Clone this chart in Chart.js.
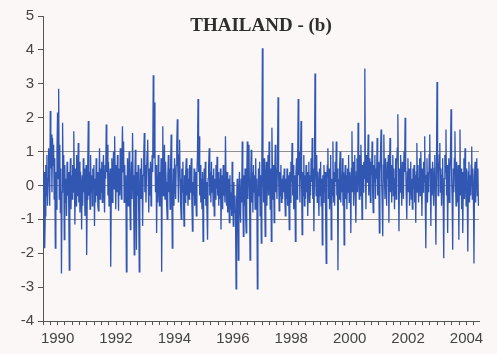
<!DOCTYPE html>
<html>
<head>
<meta charset="utf-8">
<title>THAILAND - (b)</title>
<script src="https://cdn.jsdelivr.net/npm/chart.js@4.4.1/dist/chart.umd.min.js"></script>
<style>
  html, body { margin: 0; padding: 0; background: #faf7f6; }
  #wrap { width: 497px; height: 354px; }
</style>
</head>
<body>
<div id="wrap"><canvas id="chart" width="497" height="354"></canvas></div>
<script>
// Weekly standardized series, mid-1989 to mid-2004, one block per 52 weeks.
const block1989 = [0.3,-0.5,0.4,-1.85,-0.9,0.6,-0.3,0.9,-0.6,0.2,1.1,0.3,-0.6,2.2,0.5,1.5,-0.2,1.4,0.6,1.2,-0.4,0.8,-1.85,0.4,-0.7,1.0,2.15,0.2,2.85,-0.4,1.2,-0.8,0.5,-2.6,-0.2,1.85,0.3,0.9,-1.6,0.6,-0.5,0.2,-0.9,0.7,-0.3,0.4,-0.6,-2.5,0.1,0.8,-0.7,0.3];
const block1990 = [-0.4,0.6,-0.2,1.6,0.3,-1.15,0.5,-0.6,0.9,-0.3,0.2,1.25,-0.5,0.7,-0.8,0.4,-0.1,-1.3,0.3,-0.6,0.8,-0.2,0.5,-0.9,0.1,0.6,-2.05,-0.4,0.7,1.9,-0.3,0.4,-0.7,0.9,-0.2,0.3,-0.6,0.5,-0.1,0.6,-1.2,0.2,-0.5,0.8,-0.3,0.4,-0.6,-0.75,0.2,1.1,-0.4,0.5];
const block1991 = [-0.2,0.7,-0.5,0.3,0.9,-0.1,-0.8,0.6,0.2,1.8,0.4,1.2,-0.3,0.7,-0.6,0.1,0.5,-2.4,-0.2,0.8,-0.5,0.4,1.0,-0.1,1.45,0.3,-0.7,0.6,-0.2,0.9,0.1,-0.75,0.5,-0.3,1.1,0.2,-0.4,0.7,1.75,0.4,1.3,-0.5,0.6,-0.2,0.3,-2.55,-0.4,0.8,-0.6,0.4,1.0,-0.3];
const block1992 = [-1.3,0.2,0.7,-0.4,1.55,0.3,-0.6,-2.05,0.1,1.05,-0.5,-1.9,0.4,-0.3,0.6,-0.8,-2.55,-0.2,0.5,-0.4,0.8,0.1,-1.2,0.3,0.9,1.55,-0.2,0.6,-0.5,0.4,1.0,1.35,0.2,-0.8,0.5,-0.3,0.7,-0.6,0.2,0.9,0.4,3.25,0.8,2.45,1.1,-0.2,0.6,-1.4,0.3,-0.5,0.9,0.1];
const block1993 = [-0.6,0.4,-0.2,0.8,-2.55,0.2,1.75,-0.3,0.5,1.2,-0.4,0.7,0.1,-0.6,-1.0,0.3,0.9,-0.2,0.5,-0.7,0.6,1.5,0.2,-1.85,-0.3,0.5,-0.6,0.8,0.1,-0.4,0.6,1.2,1.95,0.4,-0.5,0.9,1.35,0.2,-0.6,-1.0,0.5,-0.2,0.7,-0.4,-1.2,0.3,-0.5,0.4,0.8,-0.3,0.5,-0.6];
const block1994 = [0.2,-0.4,0.6,-0.2,0.3,0.8,-0.5,-1.35,0.1,-0.3,0.5,-0.6,0.4,-0.2,-0.9,0.3,0.9,2.55,0.4,1.45,-0.3,0.6,-0.5,0.2,-0.7,0.4,-1.65,-0.2,0.5,-0.4,0.7,-0.6,0.1,-0.8,-1.6,0.2,0.6,1.1,-0.3,0.4,-0.5,0.7,-0.2,0.3,-0.6,0.5,-0.9,0.2,-0.4,0.6,-0.1,0.85];
const block1995 = [-0.3,0.4,-0.6,0.2,-0.4,0.5,-1.3,-0.1,0.3,-0.7,0.6,-0.3,0.2,-0.5,1.45,0.1,-0.6,0.4,-0.8,0.2,-0.4,-1.1,0.3,-0.7,-0.2,-0.9,0.7,-0.5,-1.2,0.1,-0.8,-0.3,-1.0,-3.05,-0.4,0.2,-0.9,-2.2,-0.3,0.4,-0.7,-1.1,0.2,-0.5,1.3,-0.2,-1.5,0.3,-0.6,0.5,-0.9,-1.4];
const block1996 = [0.2,1.3,-0.4,0.6,1.2,-0.3,-2.2,0.1,1.05,-0.5,0.4,-0.8,0.6,-0.2,0.3,-0.7,0.8,-0.4,0.2,-3.05,-0.6,0.5,-0.3,0.7,-0.9,0.3,-1.7,0.6,4.05,0.4,-0.5,0.8,-0.2,-1.5,0.3,0.7,-0.6,0.4,0.9,-0.3,1.3,0.2,-0.7,0.5,-1.65,1.7,0.3,-0.4,0.6,-1.1,0.2,1.2];
const block1997 = [-0.2,0.5,-0.4,0.9,2.6,0.3,-0.75,0.4,-0.3,0.6,-0.5,0.2,-0.4,0.3,-0.2,0.5,-0.3,-0.9,0.2,-0.4,0.5,-0.6,0.3,-0.2,-1.3,0.4,-0.5,0.7,0.1,1.25,-0.3,0.6,-0.7,0.3,-0.2,-1.65,0.4,0.8,-0.4,0.6,2.55,0.3,1.0,-0.5,0.7,1.9,0.2,-1.45,0.4,-0.3,0.9,-0.6];
const block1998 = [0.3,-0.4,0.6,-0.2,0.4,-0.9,0.2,0.7,-0.5,0.3,-0.3,0.8,0.1,1.4,-0.4,0.5,-1.35,0.3,3.3,0.6,-0.3,0.9,-0.5,0.4,-0.2,-0.9,0.5,-0.3,0.7,-0.6,0.2,-1.75,0.3,-0.5,0.6,-0.2,0.4,-0.8,-2.3,0.2,0.6,1.1,-0.4,0.5,-0.7,0.3,0.9,-1.6,0.2,-0.3,1.3,-0.5];
const block1999 = [0.4,-0.6,0.7,0.1,1.3,-0.3,0.5,-2.5,0.2,-0.4,0.6,1.0,-0.5,0.3,-0.2,0.8,-0.6,0.4,-1.75,0.1,0.6,-0.4,0.3,-0.7,0.5,-0.2,0.9,-0.5,0.4,0.1,-1.4,0.5,1.6,-0.2,0.7,-0.6,0.3,0.9,-0.3,-1.1,0.4,0.8,-0.2,1.85,0.5,-0.4,0.9,-0.3,1.2,0.3,-1.0,0.6];
const block2000 = [-0.2,0.7,0.2,3.45,0.5,-0.7,0.9,0.1,0.6,1.5,-0.3,0.8,0.2,-0.5,0.7,0.3,1.3,-0.2,-0.8,0.6,0.1,0.9,-0.4,0.5,0.2,1.4,-0.3,0.7,0.1,-1.4,0.4,0.9,1.65,0.2,-0.5,-1.5,0.6,1.5,0.3,-0.4,0.8,0.1,-0.6,0.7,0.2,0.9,-1.1,0.4,1.4,-0.2,0.6,-0.5];
const block2001 = [0.3,0.9,-0.3,0.5,-0.7,0.2,0.8,-0.4,0.6,1.1,2.1,0.3,-1.35,0.5,-0.2,0.9,0.1,-0.6,0.7,0.2,-0.4,1.0,0.4,2.0,0.6,-0.3,-1.0,0.4,0.8,-0.2,0.5,-0.6,0.3,0.7,-0.4,0.2,-0.7,0.5,-0.1,0.6,-0.5,0.3,-1.1,0.4,1.25,-0.2,0.6,-0.5,0.2,0.8,-0.3,1.0];
const block2002 = [0.3,-0.9,0.5,-0.2,0.7,0.1,1.45,-0.4,-1.85,0.3,0.8,-0.5,0.4,-0.2,0.9,1.5,0.2,-1.2,0.5,-0.3,0.7,0.1,-0.6,0.5,0.9,-0.4,-1.75,0.6,3.05,0.7,-0.3,0.4,0.9,1.25,-0.2,0.5,-0.6,0.3,0.8,-0.5,-2.15,0.2,0.9,0.4,1.65,-0.3,0.6,-1.4,0.3,0.8,-0.5,0.4];
const block2003 = [0.9,2.25,0.3,-0.4,-1.9,0.5,-0.2,0.8,1.6,0.1,-0.6,0.7,0.2,-0.5,0.6,-1.6,0.3,1.65,-0.3,0.5,-0.7,0.4,-1.4,0.2,0.8,-0.4,1.1,0.3,-0.6,0.5,-0.2,-1.95,0.4,0.7,-0.5,0.3,-0.3,0.6,1.15,-0.4,0.5,-0.2,-2.3,0.3,0.7,-0.5,0.4,0.8,-0.3,0.5,-0.6,-0.35];

const series = [].concat(block1989, block1990, block1991, block1992, block1993,
  block1994, block1995, block1996, block1997, block1998, block1999, block2000,
  block2001, block2002, block2003);

// Time axis: first observation in mid-1989, weekly frequency.
const firstPeriod = 1989.5;
const periodsPerYear = 52.18;
const yearLabels = ['1990', '1992', '1994', '1996', '1998', '2000', '2002', '2004'];
const yTicks = [-4, -3, -2, -1, 0, 1, 2, 3, 4, 5];
const referenceLevels = [-1, 0, 1];

const points = series.map((v, i) => ({ x: firstPeriod + i / periodsPerYear, y: v }));
const lastPeriod = points[points.length - 1].x;

const axisColor = '#555555';
const labelFont = { family: "'Liberation Sans', Arial, sans-serif", size: 15 };

const background = {
  id: 'background',
  beforeDraw(chart) {
    const ctx = chart.ctx;
    ctx.save();
    ctx.fillStyle = '#faf7f6';
    ctx.fillRect(0, 0, chart.width, chart.height);
    ctx.restore();
  }
};

const heading = {
  id: 'heading',
  afterDraw(chart) {
    const { ctx, chartArea } = chart;
    ctx.save();
    ctx.font = "bold 19px 'Liberation Serif', 'Times New Roman', serif";
    ctx.fillStyle = '#2e2e2e';
    ctx.textAlign = 'center';
    ctx.textBaseline = 'middle';
    ctx.fillText('THAILAND - (b)', (chartArea.left + chartArea.right) / 2, 26);
    ctx.restore();
  }
};

new Chart(document.getElementById('chart'), {
  type: 'line',
  data: {
    datasets: [{
      data: points,
      borderColor: '#3157b3',
      borderWidth: 1.3,
      pointRadius: 0,
      tension: 0,
      fill: false
    }]
  },
  options: {
    responsive: false,
    animation: false,
    events: [],
    layout: { padding: { top: 16, right: 18, bottom: 0, left: 0 } },
    plugins: { legend: { display: false }, tooltip: { enabled: false }, title: { display: false } },
    scales: {
      x: {
        type: 'linear',
        min: firstPeriod,
        max: lastPeriod,
        afterFit(scale) { scale.height = 33; },
        border: { display: true, color: axisColor, width: 1 },
        grid: { drawOnChartArea: false, drawTicks: true, tickLength: 4, tickColor: axisColor },
        ticks: {
          stepSize: 0.25,
          includeBounds: false,
          autoSkip: false,
          maxRotation: 0,
          padding: 5,
          color: '#444444',
          font: labelFont,
          callback(value) {
            const s = String(value);
            return yearLabels.includes(s) ? s : '';
          }
        }
      },
      y: {
        min: -4,
        max: 5,
        z: 1,
        afterFit(scale) { scale.width = 43; },
        border: { display: true, color: axisColor, width: 1 },
        grid: {
          drawTicks: true,
          tickLength: 5,
          tickColor: axisColor,
          lineWidth: 1,
          color(ctx) {
            const v = ctx.tick ? ctx.tick.value : null;
            return referenceLevels.includes(v) ? 'rgba(110,110,110,0.75)' : 'rgba(0,0,0,0)';
          }
        },
        ticks: {
          stepSize: 1,
          padding: 4,
          color: '#444444',
          font: labelFont,
          callback(value) { return yTicks.includes(value) ? String(value) : ''; }
        }
      }
    }
  },
  plugins: [background, heading]
});
</script>
</body>
</html>
